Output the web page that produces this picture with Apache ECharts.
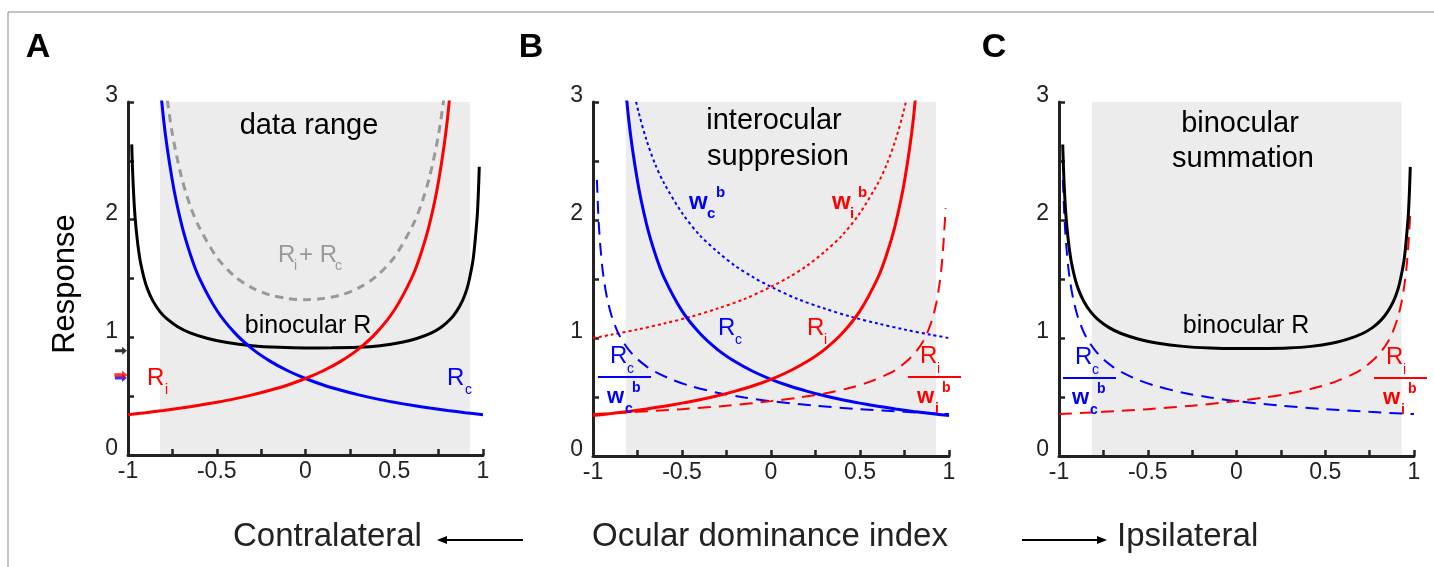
<!DOCTYPE html>
<html>
<head>
<meta charset="utf-8">
<script src="https://cdn.jsdelivr.net/npm/echarts@6/dist/echarts.min.js"></script>
<style>
  html, body { margin: 0; padding: 0; background: #fff; }
  #chart { width: 1434px; height: 567px; }
</style>
</head>
<body>
<div id="chart"></div>
<script>
// values (x = ocular dominance index, y = response)
const riX = [-1, -0.9, -0.8, -0.7, -0.6, -0.5, -0.4, -0.3, -0.2, -0.1, 0, 0.1, 0.2, 0.3, 0.4, 0.5, 0.6, 0.65, 0.7, 0.75, 0.8, 0.85];
const riY = [0.343, 0.36, 0.378, 0.399, 0.422, 0.448, 0.477, 0.511, 0.55, 0.595, 0.65, 0.716, 0.798, 0.902, 1.04, 1.23, 1.51, 1.71, 1.97, 2.33, 2.86, 3.72];
const rcX = [-0.85, -0.8, -0.75, -0.7, -0.65, -0.6, -0.5, -0.4, -0.3, -0.2, -0.1, 0, 0.1, 0.2, 0.3, 0.4, 0.5, 0.6, 0.7, 0.8, 0.9, 1];
const rcY = [3.72, 2.86, 2.33, 1.97, 1.71, 1.51, 1.23, 1.04, 0.902, 0.798, 0.716, 0.65, 0.595, 0.55, 0.511, 0.477, 0.448, 0.422, 0.399, 0.378, 0.36, 0.343];
const sumX = [-0.8, -0.75, -0.7, -0.65, -0.6, -0.5, -0.4, -0.3, -0.2, -0.1, 0, 0.1, 0.2, 0.3, 0.4, 0.5, 0.6, 0.65, 0.7, 0.75, 0.8];
const sumY = [3.25, 2.73, 2.37, 2.12, 1.94, 1.68, 1.52, 1.42, 1.36, 1.33, 1.32, 1.33, 1.36, 1.42, 1.52, 1.68, 1.94, 2.12, 2.37, 2.73, 3.25];
const binX = [-0.979, -0.975, -0.97, -0.965, -0.96, -0.95, -0.94, -0.93, -0.91, -0.89, -0.86, -0.82, -0.78, -0.72, -0.65, -0.55, -0.45, -0.3, -0.15, 0,
  0.15, 0.29, 0.42, 0.544, 0.627, 0.71, 0.768, 0.817, 0.85, 0.884, 0.909, 0.925, 0.942, 0.95, 0.958, 0.967, 0.971, 0.975, 0.979];
const binY = [2.64, 2.45, 2.27, 2.13, 2.02, 1.86, 1.735, 1.64, 1.506, 1.41, 1.31, 1.219, 1.156, 1.09, 1.038, 0.99, 0.958, 0.929, 0.915, 0.91,
  0.911, 0.915, 0.929, 0.958, 0.99, 1.038, 1.09, 1.156, 1.219, 1.31, 1.41, 1.506, 1.64, 1.735, 1.86, 2.02, 2.13, 2.27, 2.45];
const wcX = [-0.78, -0.745, -0.7, -0.65, -0.6, -0.5, -0.4, -0.3, -0.2, -0.1, 0, 0.15, 0.3, 0.45, 0.6, 0.75, 0.9, 1];
const wcY = [3.15, 2.92, 2.68, 2.47, 2.31, 2.06, 1.87, 1.73, 1.61, 1.515, 1.434, 1.33, 1.25, 1.18, 1.123, 1.072, 1.027, 1.0];
const wiX = [-1, -0.9, -0.75, -0.6, -0.45, -0.3, -0.15, 0, 0.1, 0.2, 0.3, 0.4, 0.5, 0.6, 0.65, 0.7, 0.745, 0.78];
const wiY = [1.0, 1.027, 1.072, 1.123, 1.18, 1.25, 1.33, 1.434, 1.515, 1.61, 1.73, 1.87, 2.06, 2.31, 2.47, 2.68, 2.92, 3.15];
const rcwX = [-0.978, -0.972, -0.966, -0.958, -0.947, -0.935, -0.919, -0.9, -0.882, -0.86, -0.835, -0.8, -0.76, -0.7, -0.65, -0.55, -0.45, -0.3, -0.15, 0, 0.25, 0.5, 0.75, 1];
const rcwY = [2.34, 2.105, 1.93, 1.765, 1.59, 1.457, 1.325, 1.21, 1.128, 1.047, 0.977, 0.901, 0.834, 0.76, 0.713, 0.643, 0.592, 0.536, 0.496, 0.465, 0.426, 0.397, 0.374, 0.355];
const riwX = [-1, -0.75, -0.5, -0.25, 0, 0.15, 0.3, 0.45, 0.565, 0.665, 0.715, 0.775, 0.815, 0.85, 0.874, 0.895, 0.912, 0.93, 0.945, 0.956, 0.966, 0.973, 0.981];
const riwY = [0.355, 0.374, 0.397, 0.426, 0.465, 0.494, 0.53, 0.58, 0.635, 0.70, 0.745, 0.82, 0.885, 0.96, 1.03, 1.11, 1.19, 1.305, 1.44, 1.57, 1.74, 1.9, 2.1];
// shaded "data range" bands [from, to] per panel
const bandA = [-0.82, 0.927];
const bandB = [-0.815, 0.927];
const bandC = [-0.815, 0.93];
// arrow markers on panel A's axis: [binocular R, R_c, R_i] at x = 0
const arrowY = [0.886, 0.655, 0.68];
const panelLetters = ["A", "B", "C"];

const FONT = '"Liberation Sans", Arial, sans-serif';
const BLUE = "#0000ff";
const RED = "#ff0000";
const INK = "#222";

const myChart = echarts.init(document.getElementById("chart"));

const grids = [
  { left: 128, top: 102, width: 355, height: 353 },
  { left: 593, top: 102, width: 356, height: 354 },
  { left: 1059, top: 102, width: 355, height: 354 },
];

function isStep(v, s) {
  return Math.abs(v / s - Math.round(v / s)) < 1e-6;
}

const xAxes = grids.map((g, i) => ({
  gridIndex: i, type: "value", min: -1, max: 1, interval: 0.25, z: 3,
  axisLine: { show: true, onZero: false, lineStyle: { color: INK, width: 3 } },
  axisTick: { show: true, inside: true, length: 6, lineStyle: { color: INK, width: 2.5 } },
  splitLine: { show: false },
  axisLabel: {
    fontSize: 23, color: INK, fontFamily: FONT, margin: 5,
    showMinLabel: true, showMaxLabel: true,
    formatter: (v) => (isStep(v, 0.5) ? String(v) : ""),
  },
}));
const yAxes = grids.map((g, i) => ({
  gridIndex: i, type: "value", min: 0, max: 3, interval: 0.5, z: 3,
  axisLine: { show: true, onZero: false, lineStyle: { color: INK, width: 3 } },
  axisTick: { show: true, inside: true, length: 6, lineStyle: { color: INK, width: 2.5 } },
  splitLine: { show: false },
  axisLabel: {
    fontSize: 23, color: INK, fontFamily: FONT, margin: 10,
    verticalAlign: "bottom", lineHeight: 12,
    showMinLabel: true, showMaxLabel: true,
    formatter: (v) => (isStep(v, 1) ? String(v) : ""),
  },
}));

function pairs(xs, ys) {
  return xs.map((x, i) => [x, ys[i]]);
}
function curve(gi, xs, ys, color, width, type) {
  return {
    type: "line", xAxisIndex: gi, yAxisIndex: gi, data: pairs(xs, ys),
    showSymbol: false, smooth: 0.3, clip: true, z: 4, silent: true,
    lineStyle: { color: color, width: width, type: type || "solid" },
  };
}
function band(gi, b) {
  return {
    type: "line", xAxisIndex: gi, yAxisIndex: gi, data: [[b[0], 0], [b[1], 0]],
    showSymbol: false, lineStyle: { width: 0, opacity: 0 }, z: 1, silent: true,
    markArea: {
      silent: true, itemStyle: { color: "#ececec" },
      data: [[{ xAxis: b[0], yAxis: 0 }, { xAxis: b[1], yAxis: 3 }]],
    },
  };
}
const ARROW = "path://M0,3L6,3L6,0L10,5L6,10L6,7L0,7Z";
function arrow(y, color, size) {
  return {
    type: "scatter", xAxisIndex: 0, yAxisIndex: 0, clip: false, z: 5, silent: true,
    data: [[-1.04, y]], symbol: ARROW, symbolSize: size, itemStyle: { color: color },
  };
}

const series = [
  band(0, bandA), band(1, bandB), band(2, bandC),
  // A
  curve(0, sumX, sumY, "#999", 3, [8, 6]),
  curve(0, binX, binY, "#000", 3),
  curve(0, rcX, rcY, BLUE, 3),
  curve(0, riX, riY, RED, 3),
  arrow(arrowY[0], "#000", [12, 8]),
  arrow(arrowY[1], BLUE, [12, 8]),
  arrow(arrowY[2], RED, [13, 9]),
  // B
  curve(1, wcX, wcY, BLUE, 2, [3, 3]),
  curve(1, wiX, wiY, RED, 2, [3, 3]),
  curve(1, rcwX, rcwY, BLUE, 2, [13, 8]),
  curve(1, riwX, riwY, RED, 2, [13, 8]),
  curve(1, rcX, rcY, BLUE, 3),
  curve(1, riX, riY, RED, 3),
  // C
  curve(2, rcwX, rcwY, BLUE, 2, [13, 8]),
  curve(2, riwX, riwY, RED, 2, [13, 8]),
  curve(2, binX, binY, "#000", 3),
];

// text helpers for the annotations
function t(x, y, s, size, color, align, weight) {
  return {
    type: "text", x: x, y: y, z: 100, silent: true,
    style: {
      text: s, fill: color || "#000", textAlign: align || "left", textVerticalAlign: "middle",
      font: (weight || "normal") + " " + size + "px " + FONT,
    },
  };
}
function hline(x1, x2, y, color) {
  return { type: "line", z: 100, silent: true, shape: { x1: x1, y1: y, x2: x2, y2: y }, style: { stroke: color, lineWidth: 2 } };
}
function frac(x, y, sub, color) {
  // R_sub over w_sub^b
  return [
    t(x, y, "R", 24, color),
    t(x + 17, y + 13, sub, 14, color),
    hline(x - 12, x + 41, y + 21, color),
    t(x - 3, y + 41, "w", 22, color, "left", "bold"),
    t(x + 15, y + 53, sub, 14, color, "left", "bold"),
    t(x + 22, y + 32, "b", 14, color, "left", "bold"),
  ];
}

const graphic = [
  { type: "rect", z: -1, silent: true, shape: { x: 8, y: 12, width: 1440, height: 600 }, style: { fill: "none", stroke: "#888", lineWidth: 1 } },
  t(38, 48, panelLetters[0], 34, "#000", "center", "bold"),
  t(531, 48, panelLetters[1], 34, "#000", "center", "bold"),
  t(994, 48, panelLetters[2], 34, "#000", "center", "bold"),
  { type: "text", x: 65, y: 284, rotation: Math.PI / 2, z: 100, silent: true,
    style: { text: "Response", fill: "#000", textAlign: "center", textVerticalAlign: "middle", font: "31px " + FONT } },
  // A
  t(309, 126, "data range", 29, "#000", "center"),
  t(278, 255, "R", 24, "#999"),
  t(294, 266, "i", 14, "#999"),
  t(299, 255, "+ R", 24, "#999"),
  t(335, 266, "c", 14, "#999"),
  t(308, 326, "binocular R", 25, "#000", "center"),
  t(147, 378, "R", 24, RED),
  t(165, 390, "i", 14, RED),
  t(447, 378, "R", 24, BLUE),
  t(465, 390, "c", 14, BLUE),
  // B
  t(774, 121, "interocular", 29, "#000", "center"),
  t(778, 157, "suppresion", 29, "#000", "center"),
  t(689, 202, "w", 24, BLUE, "left", "bold"),
  t(707, 214, "c", 15, BLUE, "left", "bold"),
  t(716, 193, "b", 15, BLUE, "left", "bold"),
  t(832, 202, "w", 24, RED, "left", "bold"),
  t(850, 214, "i", 15, RED, "left", "bold"),
  t(858, 193, "b", 15, RED, "left", "bold"),
  t(718, 328, "R", 24, BLUE),
  t(735, 340, "c", 14, BLUE),
  t(807, 328, "R", 24, RED),
  t(824, 340, "i", 14, RED),
  ...frac(610, 356, "c", BLUE),
  ...frac(920, 356, "i", RED),
  // C
  t(1240, 124, "binocular", 29, "#000", "center"),
  t(1243, 159, "summation", 29, "#000", "center"),
  t(1246, 326, "binocular R", 25, "#000", "center"),
  ...frac(1075, 357, "c", BLUE),
  ...frac(1386, 357, "i", RED),
  // bottom
  t(233, 537, "Contralateral", 33, INK),
  { type: "line", z: 100, silent: true, shape: { x1: 445, y1: 540, x2: 523, y2: 540 }, style: { stroke: "#000", lineWidth: 2 } },
  { type: "polygon", z: 100, silent: true, shape: { points: [[437, 540], [447, 536], [447, 544]] }, style: { fill: "#000" } },
  t(770, 537, "Ocular dominance index", 33, INK, "center"),
  { type: "line", z: 100, silent: true, shape: { x1: 1022, y1: 540, x2: 1099, y2: 540 }, style: { stroke: "#000", lineWidth: 2 } },
  { type: "polygon", z: 100, silent: true, shape: { points: [[1107, 540], [1097, 536], [1097, 544]] }, style: { fill: "#000" } },
  t(1117, 537, "Ipsilateral", 33, INK),
];

myChart.setOption({
  animation: false,
  backgroundColor: "#fff",
  grid: grids.map((g) => Object.assign({ containLabel: false, outerBoundsMode: "none" }, g)),
  xAxis: xAxes,
  yAxis: yAxes,
  series: series,
  graphic: graphic,
});
</script>
</body>
</html>
